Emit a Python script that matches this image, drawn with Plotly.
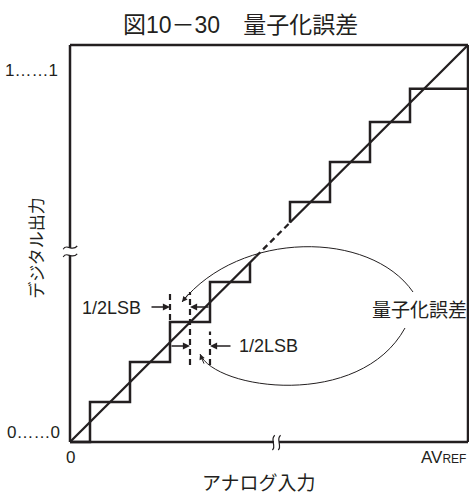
import plotly.graph_objects as go

# ---- data (units: LSB) ----
x_full = 9.95          # AVREF position on the analog axis
y_full = 9.925         # top of the digital-output axis
low_transitions = [0.5, 1.5, 2.5, 3.5]
low_codes = [0, 1, 2, 3, 4]
low_end = 4.5
high_transitions = [5.5, 6.5, 7.5, 8.5]
high_codes = [6, 7, 8, 8.83]
diag_solid_end = 4.65   # lower solid part of ideal line ends here
diag_dash_end = 5.5     # dashed part of ideal line ends here

x_ticks = ["0", "AV<span style='font-size:12px'>REF</span>"]
y_ticks = ["0……0", "1……1"]

INK = "#231f20"
FONT = "Liberation Sans, Noto Sans CJK JP, sans-serif"


def ideal(x):
    return x * y_full / x_full


# lower staircase
lx, ly = [0.0], [low_codes[0]]
for t, c in zip(low_transitions, low_codes[1:]):
    lx += [t, t]
    ly += [ly[-1], c]
lx += [low_end, low_end]
ly += [ly[-1], ideal(low_end)]

# upper staircase
hx, hy = [high_transitions[0]], [ideal(high_transitions[0])]
for t, c in zip(high_transitions, high_codes):
    hx += [t, t]
    hy += [hy[-1], c]
hx += [x_full]
hy += [hy[-1]]

fig = go.Figure()
line_style = dict(color=INK, width=2.5)
fig.add_trace(go.Scatter(x=lx, y=ly, mode="lines", line=line_style, hoverinfo="skip"))
fig.add_trace(go.Scatter(x=hx, y=hy, mode="lines", line=line_style, hoverinfo="skip"))
fig.add_trace(go.Scatter(x=[0, diag_solid_end], y=[0, ideal(diag_solid_end)], mode="lines",
                         line=dict(color=INK, width=2.3), hoverinfo="skip"))
fig.add_trace(go.Scatter(x=[diag_solid_end, diag_dash_end], y=[ideal(diag_solid_end), ideal(diag_dash_end)],
                         mode="lines", line=dict(color=INK, width=2.3, dash="6px,4px"), hoverinfo="skip"))
fig.add_trace(go.Scatter(x=[diag_dash_end, x_full], y=[ideal(diag_dash_end), y_full], mode="lines",
                         line=dict(color=INK, width=2.3), hoverinfo="skip"))

# half-LSB dashed guides
t_mid = low_transitions[2]
cross = (t_mid + low_transitions[3]) / 2
for gx, y0, y1 in [(t_mid, 3.05, 3.8), (cross, 1.925, 3.75), (low_transitions[3], 1.925, 2.76)]:
    fig.add_trace(go.Scatter(x=[gx, gx], y=[y0, y1], mode="lines",
                             line=dict(color=INK, width=2.2, dash="6px,4px"), hoverinfo="skip"))

shapes = []
box = dict(color=INK, width=2.5)
# frame with axis breaks
for x0, y0, x1, y1 in [(0, 0, 0, 4.675), (0, 4.85, 0, y_full), (0, 0, 5.1, 0), (5.225, 0, x_full, 0),
                       (0, y_full, x_full, y_full), (x_full, 0, x_full, y_full)]:
    shapes.append(dict(type="line", x0=x0, y0=y0, x1=x1, y1=y1, line=box, xref="x", yref="y"))
# break marks
thin = dict(color=INK, width=1.2)
for yb in [4.86, 4.665]:
    shapes.append(dict(type="path", xref="x", yref="y", line=thin,
                       path=f"M -0.17,{yb-0.04} C -0.08,{yb+0.12} 0.05,{yb-0.12} 0.18,{yb+0.04}"))
for xb in [5.09, 5.235]:
    shapes.append(dict(type="path", xref="x", yref="y", line=thin,
                       path=f"M {xb+0.03},0.17 C {xb-0.1},0.06 {xb+0.08},-0.1 {xb-0.03},-0.2"))
# curved pointer lines
shapes.append(dict(type="path", xref="x", yref="y", line=dict(color=INK, width=1),
                   path="M 8.575,3.75 C 7.5,5.3 4.25,5.3 2.8,3.5"))
shapes.append(dict(type="path", xref="x", yref="y", line=dict(color=INK, width=1),
                   path="M 8.375,2.85 C 7.25,0.8 3.625,1.3 3.25,2.2"))

ann = []
def txt(x, y, s, size=17, xa="center", ya="middle", angle=0):
    ann.append(dict(x=x, y=y, text=s, showarrow=False, xanchor=xa, yanchor=ya, textangle=angle,
                    font=dict(family=FONT, size=size, color=INK)))

txt(4.25, 10.425, "図10－30　量子化誤差", size=23)
txt(-0.25, 9.3, y_ticks[1], xa="right")
txt(-0.2, 0.25, y_ticks[0], xa="right")
txt(0, -0.375, x_ticks[0])
txt(x_full + 0.01, -0.375, x_ticks[1], xa="right")
txt(4.725, -1.03, "アナログ入力", size=19)
txt(-0.83, 4.85, "デジタル出力", size=17, angle=-90)
txt(1.82, 3.36, "1/2LSB", size=18, xa="right")
txt(4.17, 2.4, "1/2LSB", size=18, xa="left")
txt(7.5, 3.3, "量子化誤差", size=19, xa="left")

def arrow(hx_, hy_, tx, ty):
    ann.append(dict(x=hx_, y=hy_, ax=tx, ay=ty, axref="x", ayref="y", xref="x", yref="y", text="",
                    showarrow=True, arrowhead=2, arrowsize=1.1, arrowwidth=1.3, arrowcolor=INK, standoff=0))

arrow(t_mid, 3.375, 2.0, 3.375)
arrow(cross, 3.375, low_transitions[3], 3.375)
arrow(cross, 2.4, t_mid, 2.4)
arrow(low_transitions[3], 2.4, 4.05, 2.4)

for hx_, hy_, ax, ay in [(2.8, 3.5, 7.5, -9.3), (3.25, 2.2, 4.6, 11.1)]:
    ann.append(dict(x=hx_, y=hy_, ax=ax, ay=ay, xref="x", yref="y", text="", showarrow=True,
                    arrowhead=2, arrowsize=1.1, arrowwidth=1, arrowcolor=INK, standoff=0))

fig.update_layout(
    width=469, height=493, autosize=False,
    margin=dict(l=0, r=0, t=0, b=0),
    paper_bgcolor="white", plot_bgcolor="white",
    showlegend=False,
    xaxis=dict(range=[-1.75, 9.975], visible=False, fixedrange=True),
    yaxis=dict(range=[-1.275, 11.05], visible=False, fixedrange=True),
    shapes=shapes, annotations=ann,
)
fig.write_html("out.html", config={"displayModeBar": False},
               post_script="document.body.style.margin='0';document.body.style.overflow='hidden';")
